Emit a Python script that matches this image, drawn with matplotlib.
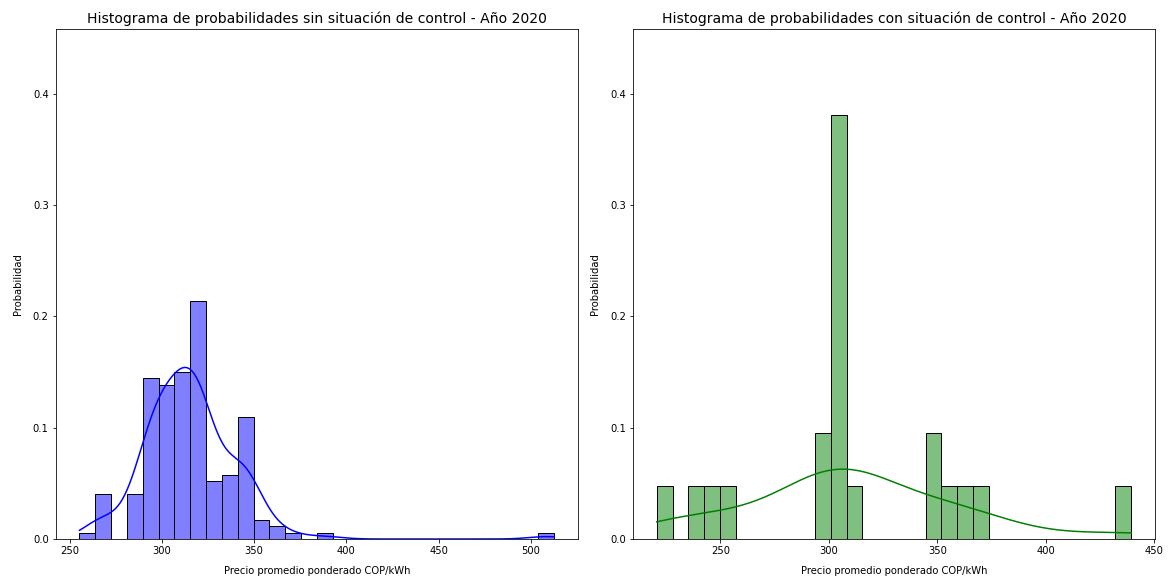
import numpy as np
import matplotlib
matplotlib.use("Agg")
import matplotlib.pyplot as plt
import seaborn as sns

# Precio promedio ponderado (COP/kWh), año 2020: rango observado y conteos por clase (30 clases)
rango_sin_control = (255.2, 512.8)
conteos_sin_control = [1, 7, 0, 7, 25, 24, 26, 37, 9, 10, 19, 3, 2, 1, 0,
                       1, 0, 0, 0, 0, 0, 0, 0, 0, 0, 0, 0, 0, 0, 1]

rango_con_control = (220.6, 439.5)
conteos_con_control = [1, 0, 1, 1, 1, 0, 0, 0, 0, 0, 2, 8, 1, 0, 0,
                       0, 0, 2, 1, 1, 1, 0, 0, 0, 0, 0, 0, 0, 0, 1]

titulos = ["Histograma de probabilidades sin situación de control - Año 2020",
           "Histograma de probabilidades con situación de control - Año 2020"]
colores = ["blue", "green"]
xlabel = "Precio promedio ponderado COP/kWh"
ylabel = "Probabilidad"
n_clases = 30


def observaciones(rango, conteos):
    """Expande los conteos por clase en valores situados en el centro de cada clase."""
    bordes = np.linspace(rango[0], rango[1], n_clases + 1)
    centros = (bordes[:-1] + bordes[1:]) / 2
    return np.repeat(centros, conteos)


dpi = 72
fig = plt.figure(figsize=(1170 / dpi, 580 / dpi), dpi=dpi)
ax1 = fig.add_axes([55.7 / 1170, 41 / 580, 522.3 / 1170, 510 / 580])
ax2 = fig.add_axes([633 / 1170, 41 / 580, 522.0 / 1170, 510 / 580])

for ax, rango, conteos, titulo, color in zip(
        [ax1, ax2],
        [rango_sin_control, rango_con_control],
        [conteos_sin_control, conteos_con_control],
        titulos, colores):
    datos = observaciones(rango, conteos)
    sns.histplot(x=datos, bins=n_clases, binrange=rango, stat="probability",
                 kde=True, color=color, alpha=0.5, edgecolor="black",
                 linewidth=1, ax=ax,
                 kde_kws={"cut": 3, "clip": rango},
                 line_kws={"linewidth": 1.5})
    ax.set_title(titulo, fontsize=14)
    ax.set_xlabel(xlabel, labelpad=10)
    ax.set_ylabel(ylabel, labelpad=10)
    ax.set_ylim(0, 0.4584)
    ax.set_yticks([0.0, 0.1, 0.2, 0.3, 0.4])
    ax.set_xlim(rango[0] - 0.05 * (rango[1] - rango[0]),
                rango[1] + 0.05 * (rango[1] - rango[0]))

fig.savefig("out.png", dpi=dpi)
